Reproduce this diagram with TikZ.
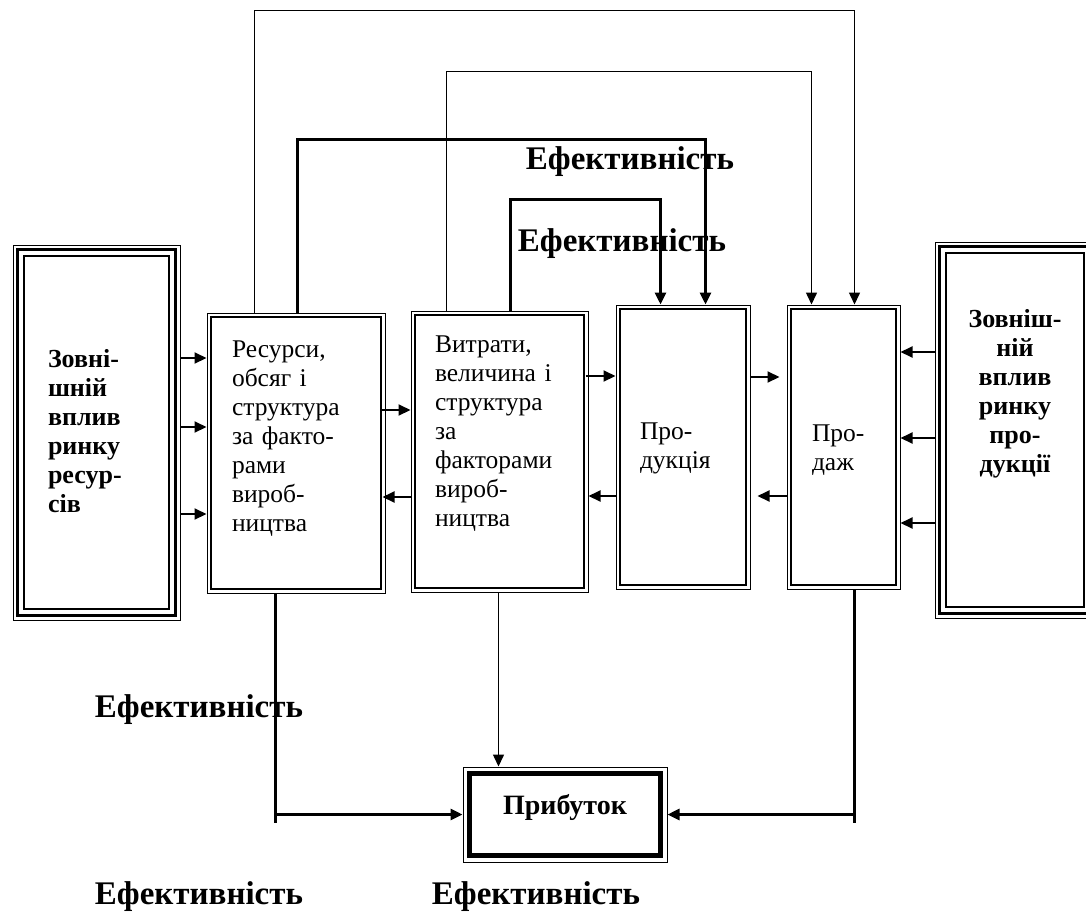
\documentclass[tikz,border=0pt]{standalone}
\usepackage{fontspec}
\setmainfont{Liberation Serif}
\usetikzlibrary{arrows.meta}

\begin{document}
\begin{tikzpicture}[x=1pt,y=1pt,>={Triangle[length=12pt,width=11pt]}]
	\tikzstyle{p}=[rectangle, draw, line width=1pt, inner ysep=0pt, align=left, font=\fontsize{25.5}{29}\selectfont]
	\tikzstyle{e}=[rectangle, draw, line width=1pt, inner ysep=0pt, font=\fontsize{26}{29}\selectfont\bfseries]
	\tikzstyle{lab}=[font=\fontsize{33}{36}\selectfont\bfseries]
	\tikzstyle{l1}=[line width=1.5pt]
	\tikzstyle{l2}=[line width=2pt]
	\tikzstyle{l3}=[line width=2.8pt]

	\useasboundingbox (0,0) rectangle (1086,-918);

	\node[e, align=left, inner xsep=35pt, text width=97pt, text height=122pt, text depth=253pt] (extres) at (96.5,-432.5) {Зовні-\\шній\\вплив\\ринку\\ресур-\\сів};
	\node[e, align=center, inner xsep=10pt, text width=140pt, text height=85pt, text depth=291pt] (extprod) at (1015,-430) {Зовніш-\\ній\\вплив\\ринку\\про-\\дукції};
	\node[p, inner xsep=25pt, text width=128pt, text height=44pt, text depth=236pt] (res) at (296,-453) {Ресурси,\\обсяг і\\структура\\за факто-\\рами\\вироб-\\ництва};
	\node[p, inner xsep=24pt, text width=129pt, text height=41pt, text depth=240pt] (cost) at (499.5,-451.5) {Витрати,\\величина і\\структура\\за\\факторами\\вироб-\\ництва};
	\node[p, inner xsep=24pt, text width=86pt, text height=134pt, text depth=150pt] (prod) at (683,-447) {Про-\\дукція};
	\node[p, inner xsep=25pt, text width=63pt, text height=136pt, text depth=148pt] (sal) at (843.5,-447) {Про-\\даж};
	\node[e, font=\fontsize{28}{32}\selectfont\bfseries, align=center, inner xsep=20pt, text width=164pt, text height=47pt, text depth=48pt] (profit) at (565,-814.5) {Прибуток};

	% inner frames
	\foreach \n in {res,cost,prod,sal}
	\draw[line width=2.2pt] ([shift={(4.5,-4.5)}]\n.north west) rectangle ([shift={(-4.5,4.5)}]\n.south east);
	\foreach \n in {extres,extprod} {
		\draw[line width=3.5pt] ([shift={(5,-5)}]\n.north west) rectangle ([shift={(-5,5)}]\n.south east);
		\draw[line width=1.3pt] ([shift={(11.5,-11.5)}]\n.north west) rectangle ([shift={(-11.5,11.5)}]\n.south east);
	}
	\draw[line width=5.5pt] ([shift={(7,-7)}]profit.north west) rectangle ([shift={(-7,7)}]profit.south east);

	% flows between the boxes
	\foreach \y in {358,427,514}
	\draw[l2,->] (extres.east |- 0,-\y) -- (res.west |- 0,-\y);
	\foreach \y in {352,438,523}
	\draw[l2,->] (extprod.west |- 0,-\y) -- (sal.east |- 0,-\y);
	\draw[l2,->,shorten <=-5pt] (res.east |- 0,-410) -- (cost.west |- 0,-410);
	\draw[l2,->,shorten >=-3pt] (cost.west |- 0,-497) -- (res.east |- 0,-497);
	\draw[l2,->,shorten <=-3pt] (cost.east |- 0,-376) -- (prod.west |- 0,-376);
	\draw[l2,->] (prod.west |- 0,-496) -- (cost.east |- 0,-496);
	\draw[l2,->,shorten >=7pt] (prod.east |- 0,-377) -- (sal.west |- 0,-377);
	\draw[l2,->,shorten >=7pt] (sal.west |- 0,-496) -- (prod.east |- 0,-496);

	% loops over the top
	\draw[l1,->] ([xshift=48]res.north west) -- ++(0,302) -| ([xshift=68]sal.north west);
	\draw[l1,->] ([xshift=36]cost.north west) -- ++(0,239) -| ([xshift=25]sal.north west);
	\draw[l3,->] ([xshift=91]res.north west) -- ++(0,173) -| ([xshift=90]prod.north west);
	\draw[l3,->] ([xshift=100]cost.north west) -- ++(0,111) -| ([xshift=45]prod.north west);

	% down to the profit
	\coordinate (rb) at ([xshift=69]res.south west);
	\coordinate (cb) at ([xshift=88]cost.south west);
	\coordinate (sb) at ([xshift=68]sal.south west);
	\draw[l3] (rb) -- ++(0,-229);
	\draw[l3,->] (rb |- profit.west) -- (profit.west);
	\draw[l1,->] (cb) -- (cb |- profit.north);
	\draw[l3] (sb) -- ++(0,-233);
	\draw[l3,->] (sb |- profit.east) -- (profit.east);

	\node[lab] (ef1) at (630,-162) {Ефективність};
	\node[lab] (ef2) at (622,-244) {Ефективність};
	\node[lab] (ef3) at (199,-710) {Ефективність};
	\node[lab] (ef4) at (199,-897) {Ефективність};
	\node[lab] (ef5) at (536,-897) {Ефективність};
\end{tikzpicture}
\end{document}
